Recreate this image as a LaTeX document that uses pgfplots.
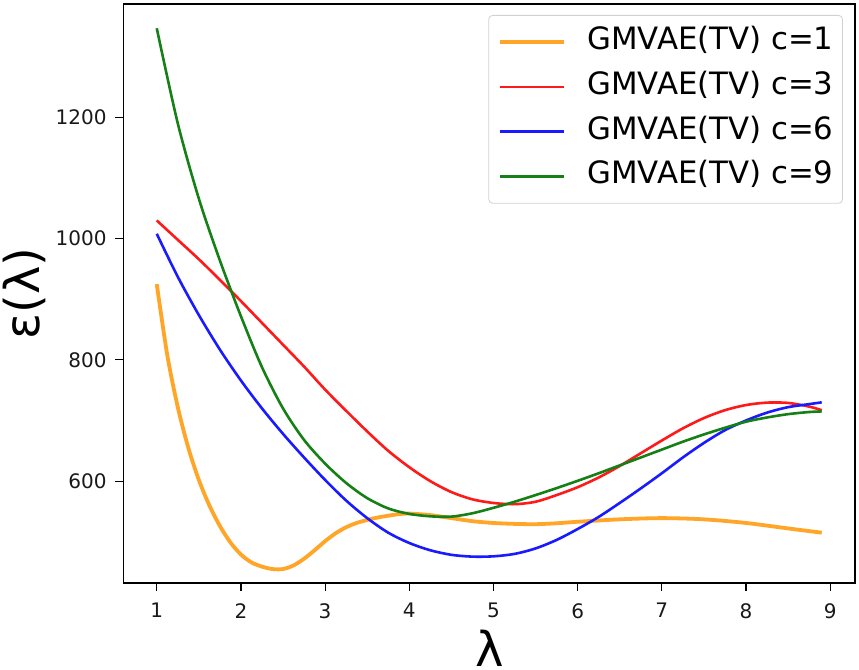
\documentclass[border=0pt]{standalone}
\usepackage{fontspec}
\setmainfont{DejaVu Sans}
\usepackage{pgfplots}
\pgfplotsset{compat=1.18}
\definecolor{cOrange}{HTML}{FFA629}
\definecolor{cRed}{HTML}{FF1A1A}
\definecolor{cBlue}{HTML}{1A1AFF}
\definecolor{cGreen}{HTML}{158015}
\begin{document}
\begin{tikzpicture}
\useasboundingbox (-61.75pt,-43.5pt) rectangle (367.75pt,291.5pt);
\begin{axis}[
  at={(0,0)}, anchor=south west,
  scale only axis,
  width=365.75pt, height=289.5pt,
  xmin=0.605, xmax=9.295,
  ymin=432, ymax=1387,
  xtick={1,2,...,9},
  ytick={600,800,1000,1200},
  tick align=outside,
  major tick length=4pt,
  tick style={black, line width=0.6pt},
  axis line style={black, line width=0.7pt},
  xtick pos=bottom, ytick pos=left,
  /pgf/number format/assume math mode=true,
  /pgf/number format/1000 sep={},
  ticklabel style={font=\fontsize{10}{12}\selectfont, text=black!90},
  xticklabel style={inner sep=0pt, anchor=north, yshift=-6pt},
  yticklabel style={inner sep=0pt, anchor=east, xshift=-4.25pt},
  xlabel={λ},
  ylabel={ε(λ)},
  xlabel style={font=\fontsize{24}{28}\selectfont, inner sep=0pt, at={(axis description cs:0.5,0)}, anchor=north, yshift=-23.5pt},
  ylabel style={font=\fontsize{24}{28}\selectfont, inner sep=0pt, at={(axis description cs:-0.136,0.5)}, anchor=center},
  legend cell align=left,
  legend style={at={(1,1)}, anchor=north east, xshift=-6pt, yshift=-5.5pt,
    draw=black!18, rounded corners=2pt, fill=white, fill opacity=0.85, text opacity=1,
    font=\fontsize{15.4}{18}\selectfont, inner xsep=4.5pt, inner ysep=5.7pt,
    nodes={inner sep=0pt, text height=11.5pt, text depth=4pt},
    row sep=6.85pt, column sep=11pt},
  legend image code/.code={\draw[#1] (0pt,0pt) -- (32pt,0pt);},
]
\addplot[cOrange, line width=1.9pt, smooth, tension=0.5] coordinates {
(1.0,925) (1.125,808) (1.25,722) (1.375,655) (1.5,602) (1.625,560) (1.75,526)
(1.875,499) (2.0,479) (2.125,466) (2.25,459) (2.375,455) (2.5,455) (2.625,461)
(2.75,472) (2.875,486) (3.0,501) (3.125,514) (3.25,524) (3.375,531) (3.5,536)
(3.625,540) (3.75,543) (3.875,545.5) (4.0,546.5) (4.25,544) (4.5,539) (4.75,534)
(5.0,531) (5.25,529.5) (5.5,529) (5.75,530.5) (6.0,533) (6.5,537) (7.0,539)
(7.5,537) (8.0,531) (8.5,522) (8.9,515)};
\addlegendentry{GMVAE(TV) c=1}
\addplot[cRed, line width=1.3pt, smooth, tension=0.5] coordinates {
(1.0,1030) (1.25,998) (1.5,966) (1.75,932) (2.0,897) (2.25,861) (2.5,825)
(2.75,789) (3.0,751) (3.25,716) (3.5,682) (3.75,650) (4.0,623) (4.25,600)
(4.5,582) (4.75,570) (5.0,564) (5.25,562) (5.5,566) (5.75,577) (6.0,590)
(6.25,606) (6.5,625) (6.75,646) (7.0,667) (7.25,687) (7.5,704) (7.75,717)
(8.0,725.5) (8.25,729.5) (8.5,729) (8.75,723) (8.9,717)};
\addlegendentry{GMVAE(TV) c=3}
\addplot[cBlue, line width=1.3pt, smooth, tension=0.5] coordinates {
(1.0,1008) (1.25,937) (1.5,874) (1.75,817) (2.0,766) (2.25,720) (2.5,678)
(2.75,639) (3.0,602) (3.25,568) (3.5,539) (3.75,515) (4.0,498) (4.25,486)
(4.5,478.5) (4.75,475.5) (5.0,476) (5.25,480) (5.5,489) (5.75,503) (6.0,521)
(6.25,541) (6.5,564) (6.75,588) (7.0,613) (7.25,639) (7.5,663) (7.75,684)
(8.0,700) (8.25,713) (8.5,722) (8.75,727) (8.9,730)};
\addlegendentry{GMVAE(TV) c=6}
\addplot[cGreen, line width=1.3pt, smooth, tension=0.5] coordinates {
(1.0,1347) (1.25,1190) (1.5,1066) (1.75,964) (2.0,872) (2.25,788) (2.5,720)
(2.75,668) (3.0,629) (3.25,597) (3.5,572) (3.75,555) (4.0,546) (4.25,542)
(4.5,541.5) (4.75,547) (5.0,556) (5.25,566) (5.5,577) (5.75,588.5) (6.0,600.5)
(6.25,613) (6.5,626) (6.75,639) (7.0,652) (7.25,665) (7.5,677) (7.75,688)
(8.0,698) (8.25,705) (8.5,710.5) (8.75,714) (8.9,715)};
\addlegendentry{GMVAE(TV) c=9}
\end{axis}
\end{tikzpicture}
\end{document}
